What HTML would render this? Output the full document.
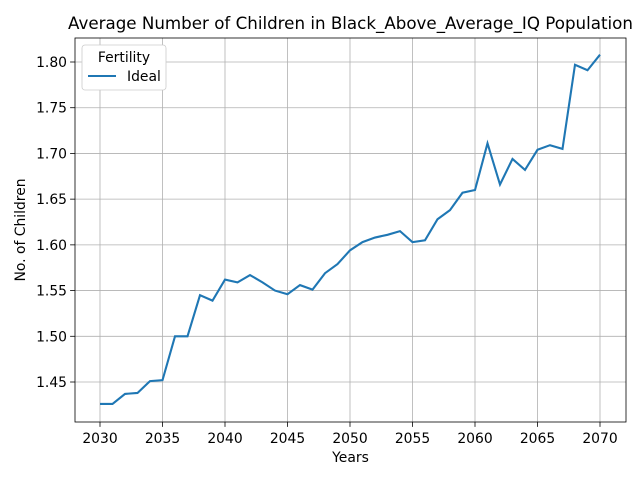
<!DOCTYPE html>
<html><head><meta charset="utf-8"><style>
body{margin:0;background:#fff;font-family:"Liberation Sans","DejaVu Sans",sans-serif}
svg text{font-family:"DejaVu Sans","Liberation Sans",sans-serif}
</style></head><body>
<svg id="chart" width="640" height="480"></svg>
<script>
const years=[];for(let y=2030;y<=2070;y++)years.push(y);
const values=[1.426,1.426,1.437,1.438,1.451,1.452,1.500,1.500,1.545,1.539,1.562,1.559,1.567,1.559,1.550,1.546,1.556,1.551,1.569,1.579,1.594,1.603,1.608,1.611,1.615,1.603,1.605,1.628,1.638,1.657,1.660,1.711,1.666,1.694,1.682,1.704,1.709,1.705,1.797,1.791,1.808];
const xTicks=[2030,2035,2040,2045,2050,2055,2060,2065,2070];
const yTicks=[1.45,1.50,1.55,1.60,1.65,1.70,1.75,1.80];
const L=75,R=626,T=38,B=422;
const xs=v=>100+(v-2030)*12.5;
const ys=v=>62+(1.80-v)*914.3;
const svg=document.getElementById('chart');const NS='http://www.w3.org/2000/svg';
function mk(t,a,p){const e=document.createElementNS(NS,t);for(const k in a)e.setAttribute(k,a[k]);(p||svg).appendChild(e);return e;}
const grid=mk('g',{});


xTicks.forEach(t=>{const x=xs(t);
 const g=mk('line',{x1:x,x2:x,y1:T,y2:B,stroke:'#b0b0b0','stroke-width':0.8},grid);
 
 
 mk('line',{x1:x,x2:x,y1:B,y2:B+4.9,stroke:'#000','stroke-width':0.8});
 const tx=mk('text',{x:x,y:B+21,'font-size':13.9,'text-anchor':'middle'});tx.textContent=t;
 
 });
yTicks.forEach(t=>{const y=ys(t);
 const g=mk('line',{x1:L,x2:R,y1:y,y2:y,stroke:'#b0b0b0','stroke-width':0.8},grid);
 
 
 mk('line',{x1:L-4.9,x2:L,y1:y,y2:y,stroke:'#000','stroke-width':0.8});
 const tx=mk('text',{x:L-8,y:y+5,'font-size':13.9,'text-anchor':'end'});tx.textContent=t.toFixed(2);
 
 });
const line=mk('polyline',{points:years.map((y,i)=>xs(y)+','+ys(values[i])).join(' '),fill:'none',stroke:'#1f77b4','stroke-width':2.1});


const fr=mk('rect',{x:L,y:T,width:R-L,height:B-T,fill:'none',stroke:'#000','stroke-width':0.8});


const ti=mk('text',{x:(L+R)/2,y:T-9,'font-size':16.7,'text-anchor':'middle'});ti.textContent='Average Number of Children in Black_Above_Average_IQ Population';


const xl=mk('text',{x:(L+R)/2,y:462,'font-size':13.9,'text-anchor':'middle'});xl.textContent='Years';


const yl=mk('text',{x:0,y:0,'font-size':13.9,'text-anchor':'middle',transform:'translate(25,230) rotate(-90)'});yl.textContent='No. of Children';


const lg=mk('g',{});


mk('rect',{x:82,y:45,width:84,height:45,rx:3,fill:'#fff',stroke:'#ccc','stroke-width':0.8},lg);
const lt=mk('text',{x:124,y:62,'font-size':13.9,'text-anchor':'middle'},lg);lt.textContent='Fertility';


mk('line',{x1:88,x2:116,y1:76,y2:76,stroke:'#1f77b4','stroke-width':2.1},lg);
const le=mk('text',{x:127,y:81,'font-size':13.9},lg);le.textContent='Ideal';


</script>
</body></html>
